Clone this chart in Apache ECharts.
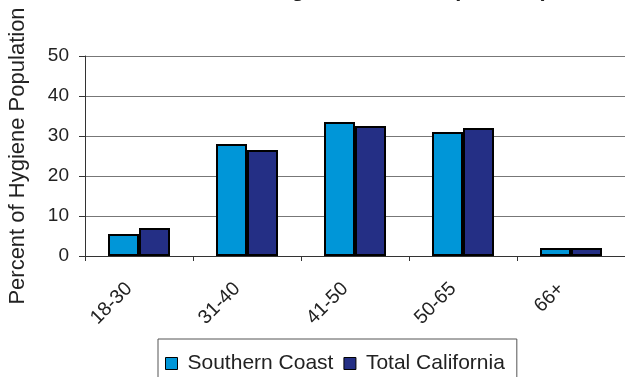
<!DOCTYPE html>
<html>
<head>
<meta charset="utf-8">
<script src="https://cdn.jsdelivr.net/npm/echarts@6/dist/echarts.min.js"></script>
<style>html,body{margin:0;padding:0;background:#fff}#c{width:625px;height:377px}</style>
</head>
<body>
<div id="c"></div>
<script>
const categories = ['18-30', '31-40', '41-50', '50-65', '66+'];
const southernCoast = [5.5, 28, 33.5, 31, 2];
const totalCalifornia = [7, 26.5, 32.5, 32, 2];
const yTicks = [0, 10, 20, 30, 40, 50];
const seriesNames = ['Southern Coast', 'Total California'];
const titleText = 'Age Distribution (Percent)';

const font = '"Liberation Sans", Arial, sans-serif';
const chart = echarts.init(document.getElementById('c'));
chart.setOption({
  animation: false,
  backgroundColor: '#fff',
  graphic: [{
    type: 'text', x: 548, y: -10.5,
    style: { text: titleText, font: 'bold 22px ' + font, fill: '#222', align: 'right', verticalAlign: 'middle' }
  }],
  grid: { left: 85, top: 56, width: 540, height: 200, outerBoundsMode: 'none', containLabel: false },
  legend: {
    data: seriesNames,
    left: 158, top: 339,
    orient: 'horizontal',
    padding: [14, 12, 14, 7],
    borderColor: '#555', borderWidth: 1,
    itemWidth: 12, itemHeight: 12, itemGap: 10,
    icon: 'rect',
    itemStyle: { borderColor: '#000', borderWidth: 1 },
    textStyle: { fontFamily: font, fontSize: 21, color: '#222', padding: [0, 0, 0, 5] }
  },
  xAxis: {
    type: 'category', data: categories,
    axisLine: { lineStyle: { color: '#333', width: 1 } },
    axisTick: { show: true, length: 5, lineStyle: { color: '#333' } },
    axisLabel: { rotate: 45, align: 'right', verticalAlign: 'middle', margin: 20, padding: [0, 14, 0, 0], fontFamily: font, fontSize: 19.5, color: '#222' }
  },
  yAxis: {
    type: 'value', min: yTicks[0], max: yTicks[yTicks.length - 1], interval: 10,
    name: 'Percent of Hygiene Population', nameLocation: 'middle', nameRotate: 90, nameGap: 56,
    nameTextStyle: { fontFamily: font, fontSize: 22, color: '#222' },
    axisLine: { show: true, lineStyle: { color: '#333' } },
    axisTick: { show: true, length: 6, lineStyle: { color: '#333' } },
    axisLabel: { margin: 16, fontFamily: font, fontSize: 19, color: '#222' },
    splitLine: { lineStyle: { color: '#777', width: 1 } }
  },
  series: [
    { name: seriesNames[0], type: 'bar', data: southernCoast, barWidth: 31, barGap: '0%',
      itemStyle: { color: '#0096d8', borderColor: '#000', borderWidth: 2 } },
    { name: seriesNames[1], type: 'bar', data: totalCalifornia, barWidth: 31, barGap: '0%',
      itemStyle: { color: '#242f85', borderColor: '#000', borderWidth: 2 } }
  ]
});
</script>
</body>
</html>
